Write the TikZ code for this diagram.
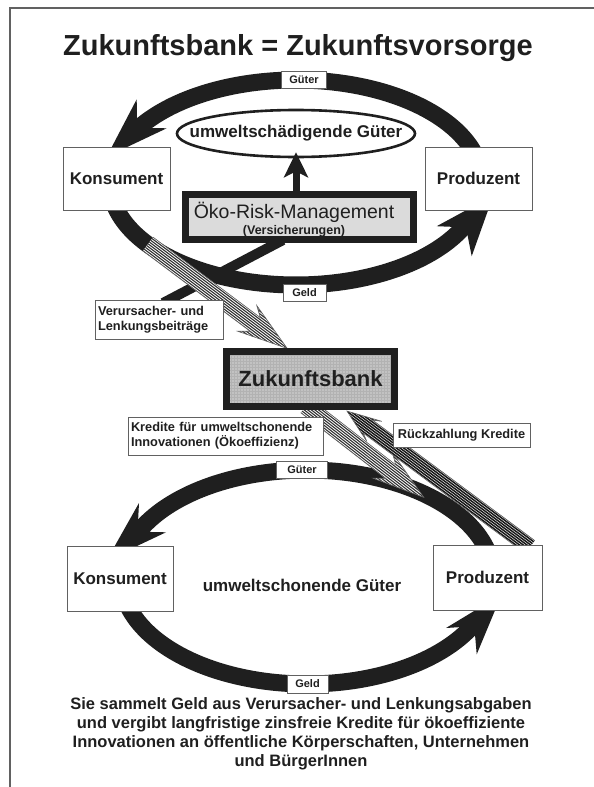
\documentclass[tikz,border=0pt]{standalone}
\usepackage{fontspec}
\setmainfont{Liberation Sans}
\usetikzlibrary{arrows.meta,shapes.geometric,patterns}
\definecolor{ink}{gray}{0.12}
\definecolor{rim}{gray}{0.38}
\definecolor{oekofill}{gray}{0.86}
\definecolor{bankfill}{gray}{0.76}
% #1,#2 start, #3 canvas angle, #4 length, #5 half width, #6 head length,
% #7 join offset, #8 barb half width, #9 stripe style
\newcommand{\hband}[9]{%
 \begin{scope}[shift={(#1,#2)},rotate=#3]
  \fill[white] (0,-#5) -- ({#4-#6+#7},-#5) -- ({#4-#6},-#8) -- (#4,0) -- ({#4-#6},#8) -- ({#4-#6+#7},#5) -- (0,#5) -- cycle;
  \begin{scope}
   \clip (0,-#5) -- ({#4-#6+#7},-#5) -- ({#4-#6},-#8) -- (#4,0) -- ({#4-#6},#8) -- ({#4-#6+#7},#5) -- (0,#5) -- cycle;
   \foreach \v in {-20,-17.8,...,20}{\draw[#9] (-5,\v) -- ({#4+5},\v);}
  \end{scope}
  \draw[rim, line width=0.6pt] (0,-#5) -- ({#4-#6+#7},-#5) -- ({#4-#6},-#8) -- (#4,0) -- ({#4-#6},#8) -- ({#4-#6+#7},#5) -- (0,#5);
 \end{scope}}
\tikzset{
 arcline/.style={draw=ink, line width=17pt},
 head/.style={fill=ink},
 actor/.style={draw=rim, line width=1pt, fill=white, text=ink, inner sep=0pt,
   font=\fontsize{17}{20}\selectfont\bfseries},
 tag/.style={draw=rim, line width=0.9pt, fill=white, text=ink, inner sep=0pt,
   font=\fontsize{11}{13}\selectfont\bfseries},
 note/.style={draw=rim, line width=0.9pt, fill=white, text=ink, inner sep=3pt, align=left,
   font=\fontsize{12.8}{15}\selectfont\bfseries},
 lightstripe/.style={black!80, line width=1.1pt},
 darkstripe/.style={black!90, line width=1.5pt}
}
\begin{document}
\begin{tikzpicture}[x=1pt,y=-1pt]
\useasboundingbox (0,0) rectangle (594,787);
% frame
\draw[rim, line width=1.3pt] (10,787) -- (10,8) -- (594,8);
% title
\node[text=ink, font=\fontsize{29}{34}\selectfont\bfseries] (title) at (298,48) {Zukunftsbank = Zukunftsvorsorge};

% ---------- upper cycle ----------
\draw[arcline] plot[domain=208:350, samples=90] ({296+186*cos(\x)},{182.5+102.5*sin(\x)});
\fill[head] (106.7,156.7) -- (136.7,99.3) -- (137.1,127.7) -- (166.7,128.3) -- cycle;
\draw[arcline] plot[domain=22:170, samples=90] ({296+186*cos(\x)},{182.5+102.5*sin(\x)});
\fill[head] (493.3,195.5) -- (436.7,226.2) -- (466,227.4) -- (471.7,256.2) -- cycle;

% dark contribution band
\coordinate (vbtop) at (163,303);
\coordinate (oebot) at (283,240);
\draw[ink, line width=10pt] (vbtop) -- (oebot);

% hatched band to bank
\hband{148}{244}{-36.87}{174}{8.5}{50}{10}{16}{lightstripe}

% ---------- lower cycle ----------
\draw[arcline] plot[domain=201:352, samples=90] ({307+186*cos(\x)},{577+107*sin(\x)});
\fill[head] (106.7,560.3) -- (139,503) -- (137.5,531.7) -- (166,532.3) -- cycle;
\draw[arcline] plot[domain=23:165, samples=90] ({307+186*cos(\x)},{577+107*sin(\x)});
\fill[head] (501.7,594.3) -- (446,628) -- (474.3,626.2) -- (476.7,654.3) -- cycle;

% Kredite band (bank -> lower cycle)
\hband{306}{406}{-37.8}{149}{8.5}{52}{10}{16}{lightstripe}
% Rueckzahlung band (producer -> bank)
\hband{530}{547}{143.4}{228}{8}{34}{8}{12.5}{darkstripe}

% ---------- upper nodes ----------
\node[actor, minimum width=107pt, minimum height=63pt] (k1) at (116.5,178.5) {Konsument};
\node[actor, minimum width=107pt, minimum height=63pt] (p1) at (478.5,178.5) {Produzent};
\node[ellipse, draw=ink, line width=2.6pt, fill=white, inner sep=0pt,
      minimum width=238pt, minimum height=47pt] (ug) at (296,133.5) {};
\node[text=ink, font=\fontsize{17}{20}\selectfont\bfseries] (ugt) at (296,133.5) {umweltschädigende Güter};
\node[draw=ink, line width=7pt, fill=oekofill, minimum width=228pt, minimum height=45pt] (oe) at (299.5,217) {};
\node[text=ink, font=\fontsize{19.5}{22}\selectfont] (oet1) at (294,212) {Öko-Risk-Management};
\node[text=ink, font=\fontsize{12.5}{14}\selectfont\bfseries] (oet2) at (294,231.5) {(Versicherungen)};
\draw[ink, line width=7pt, -{Stealth[length=25pt,width=24pt,inset=6pt]}]
     (ug.south |- oe.north) -- ([yshift=6pt]ug.south);
\node[tag, minimum width=45pt, minimum height=17pt] (g1) at (304,80) {Güter};
\node[tag, minimum width=43pt, minimum height=17pt] (ge1) at (304.5,292.5) {Geld};

% ---------- bank ----------
\node[draw=ink, line width=7pt, minimum width=168pt, minimum height=55pt,
      preaction={fill=bankfill}, pattern=grid, pattern color=black!30,
      text=ink, font=\fontsize{22}{26}\selectfont\bfseries] (bank) at (310.5,379) {Zukunftsbank};

% ---------- notes ----------
\node[note, minimum width=128pt, minimum height=39pt, text width=122pt] (vb) at (159,319.5)
     {Verursacher- und\\Lenkungsbeiträge};
\node[note, minimum width=195pt, minimum height=38pt, text width=189pt] (kr) at (225.5,436)
     {Kredite für umweltschonende\\Innovationen (Ökoeffizienz)};
\node[note, minimum width=137pt, minimum height=24pt, align=center, inner sep=0pt] (rk) at (461.5,435)
     {Rückzahlung Kredite};

% ---------- lower nodes ----------
\node[actor, minimum width=106pt, minimum height=65pt] (k2) at (120,578.5) {Konsument};
\node[actor, minimum width=109pt, minimum height=65pt] (p2) at (487.5,577.5) {Produzent};
\node[text=ink, font=\fontsize{17}{20}\selectfont\bfseries] (ug2) at (302,585) {umweltschonende Güter};
\node[tag, minimum width=51pt, minimum height=17pt] (g2) at (302,470) {Güter};
\node[tag, minimum width=41pt, minimum height=18pt] (ge2) at (307.5,684) {Geld};

% ---------- bottom text ----------
\node[text=ink, align=center, font=\fontsize{16.5}{19}\selectfont\bfseries] (bt) at (301,734)
 {Sie sammelt Geld aus Verursacher- und Lenkungsabgaben\\
  und vergibt langfristige zinsfreie Kredite für ökoeffiziente\\
  Innovationen an öffentliche Körperschaften, Unternehmen\\
  und BürgerInnen};
\end{tikzpicture}
\end{document}
